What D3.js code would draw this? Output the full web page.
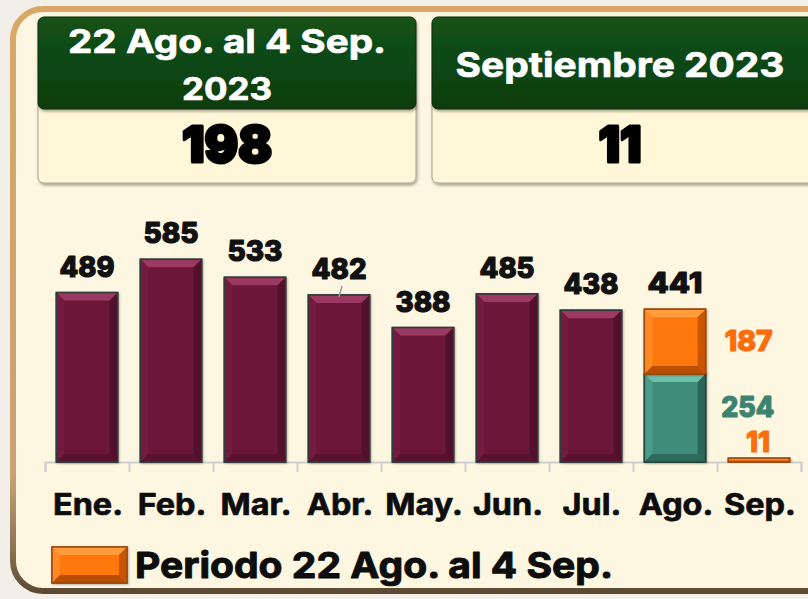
<!DOCTYPE html>
<html>
<head>
<meta charset="utf-8">
<script src="https://cdn.jsdelivr.net/npm/d3@7"></script>
<style>
  html, body { margin: 0; padding: 0; background: #f2eee8; }
  svg { display: block; font-family: Inter, "Open Sans", sans-serif; }
</style>
</head>
<body>
<svg id="chart" width="808" height="599"></svg>
<script>
// Monthly counts, 2023
const months = ["Ene.", "Feb.", "Mar.", "Abr.", "May.", "Jun.", "Jul.", "Ago.", "Sep."];
const baseValues = [489, 585, 533, 482, 388, 485, 438, 254, 0];   // counted outside the period
const periodValues = [0, 0, 0, 0, 0, 0, 0, 187, 11];               // 22 Ago. – 4 Sep.
const totalLabels = [489, 585, 533, 482, 388, 485, 438, 441, null];

// Summary boxes
const summaryTitles = [["22 Ago. al 4 Sep.", "2023"], ["Septiembre 2023"]];
const summaryValues = [198, 11];
const legendLabel = "Periodo 22 Ago. al 4 Sep.";

const W = 808, H = 599;
const svg = d3.select("#chart");
const defs = svg.append("defs");

// ---------- gradients & filters ----------
const frameGrad = defs.append("linearGradient").attr("id", "frameGrad")
  .attr("x1", 0).attr("y1", 0).attr("x2", 0).attr("y2", 1);
frameGrad.append("stop").attr("offset", "0%").attr("stop-color", "#d9a868");
frameGrad.append("stop").attr("offset", "80%").attr("stop-color", "#c9a273");
frameGrad.append("stop").attr("offset", "93%").attr("stop-color", "#8a7454");
frameGrad.append("stop").attr("offset", "100%").attr("stop-color", "#5c4a32");

const headGrad = defs.append("linearGradient").attr("id", "headGrad")
  .attr("x1", 0).attr("y1", 0).attr("x2", 0).attr("y2", 1);
headGrad.append("stop").attr("offset", "0%").attr("stop-color", "#14521a");
headGrad.append("stop").attr("offset", "100%").attr("stop-color", "#0a3d0e");

const shadow = defs.append("filter").attr("id", "shadow")
  .attr("x", "-10%").attr("y", "-10%").attr("width", "130%").attr("height", "140%");
shadow.append("feDropShadow").attr("dx", 1).attr("dy", 2).attr("stdDeviation", 1.6)
  .attr("flood-color", "#000").attr("flood-opacity", 0.35);

const barShadow = defs.append("filter").attr("id", "barShadow")
  .attr("x", "-10%").attr("y", "-10%").attr("width", "130%").attr("height", "130%");
barShadow.append("feDropShadow").attr("dx", 1).attr("dy", 1).attr("stdDeviation", 1)
  .attr("flood-color", "#000").attr("flood-opacity", 0.3);

// ---------- outer panel ----------
svg.append("rect").attr("width", W).attr("height", H).attr("fill", "#f2eee8");
svg.append("rect")
  .attr("x", 13).attr("y", 9).attr("width", 840).attr("height", 582)
  .attr("rx", 30)
  .attr("fill", "#fdf6e1")
  .attr("stroke", "url(#frameGrad)").attr("stroke-width", 6);

// heavy text: a thin same-colour stroke thickens the glyphs
function heavy(sel, w) {
  return sel.attr("stroke", function () { return d3.select(this).attr("fill"); })
    .attr("stroke-width", w).attr("stroke-linejoin", "round").attr("paint-order", "stroke");
}

// ---------- summary boxes ----------
const boxes = [
  { x: 38, w: 378 },
  { x: 432, w: 382 }
];
boxes.forEach((b, i) => {
  const g = svg.append("g");
  const cx = b.x + b.w / 2;
  g.append("rect").attr("x", b.x).attr("y", 100).attr("width", b.w).attr("height", 83)
    .attr("rx", 6).attr("fill", "#fff7d8").attr("stroke", "#a9a28c").attr("stroke-width", 1)
    .attr("filter", "url(#shadow)");
  g.append("rect").attr("x", b.x).attr("y", 17).attr("width", b.w).attr("height", 92)
    .attr("rx", 6).attr("fill", "url(#headGrad)").attr("stroke", "#062a08").attr("stroke-width", 1)
    .attr("filter", "url(#shadow)");
  const lines = summaryTitles[i];
  if (lines.length === 2) {
    heavy(g.append("text").attr("x", cx).attr("y", 53).attr("text-anchor", "middle")
      .attr("fill", "#fff").attr("font-size", 33).attr("font-weight", 700)
      .attr("textLength", 318).attr("lengthAdjust", "spacingAndGlyphs").text(lines[0]), 0.7);
    heavy(g.append("text").attr("x", cx).attr("y", 100).attr("text-anchor", "middle")
      .attr("fill", "#fff").attr("font-size", 31).attr("font-weight", 700)
      .attr("textLength", 90).attr("lengthAdjust", "spacingAndGlyphs").text(lines[1]), 0.7);
  } else {
    heavy(g.append("text").attr("x", cx - 3).attr("y", 77).attr("text-anchor", "middle")
      .attr("fill", "#fff").attr("font-size", 34).attr("font-weight", 700)
      .attr("textLength", 329).attr("lengthAdjust", "spacingAndGlyphs").text(lines[0]), 0.7);
  }
  const v = String(summaryValues[i]);
  heavy(g.append("text").attr("x", i === 0 ? cx : cx - 3).attr("y", 162).attr("text-anchor", "middle")
    .attr("fill", "#000").attr("font-size", 50).attr("font-weight", 900)
    .attr("textLength", v.length * 22 + (v === "11" ? -1 : 24)).attr("lengthAdjust", "spacingAndGlyphs")
    .text(v), 3);
});

// ---------- scales ----------
const x = d3.scaleBand().domain(months).range([45, 801]).paddingInner(0.27).paddingOuter(0.135);
const y = d3.scaleLinear().domain([0, 600]).range([462, 254.1]);
const bw = x.bandwidth();

// ---------- axis (ticks between categories) ----------
const tickScale = d3.scaleLinear().domain([0, months.length]).range([45, 801]);
const axis = svg.append("g").attr("transform", `translate(0,${y(0)})`)
  .call(d3.axisBottom(tickScale).tickValues(d3.range(months.length + 1)).tickFormat("")
    .tickSize(10).tickSizeOuter(10));
axis.selectAll("path, line").attr("stroke", "#cfcfcf").attr("stroke-width", 2);

// ---------- bevelled bar helper ----------
function bevelBar(g, x0, y0, w, h, pal) {
  const b = Math.min(8, h / 3, w / 4);
  const x1 = x0 + w, y1 = y0 + h;
  g.append("rect").attr("x", x0).attr("y", y0).attr("width", w).attr("height", h)
    .attr("fill", pal.face).attr("stroke", pal.edge).attr("stroke-width", 1.5)
    .attr("filter", "url(#barShadow)");
  const poly = (pts, fill) => g.append("polygon")
    .attr("points", pts.map(p => p.join(",")).join(" ")).attr("fill", fill);
  poly([[x0, y0], [x1, y0], [x1 - b, y0 + b], [x0 + b, y0 + b]], pal.top);
  poly([[x0, y0], [x0 + b, y0 + b], [x0 + b, y1 - b], [x0, y1]], pal.left);
  poly([[x1, y0], [x1, y1], [x1 - b, y1 - b], [x1 - b, y0 + b]], pal.right);
  poly([[x0, y1], [x0 + b, y1 - b], [x1 - b, y1 - b], [x1, y1]], pal.bottom);
  g.append("rect").attr("x", x0).attr("y", y0).attr("width", w).attr("height", h)
    .attr("fill", "none").attr("stroke", pal.edge).attr("stroke-width", 1.5);
}

const maroon = { face: "#6c1637", top: "#9c3961", left: "#741c40", right: "#53102a", bottom: "#58122d", edge: "#2e3a38" };
const teal   = { face: "#3f8c7a", top: "#6cc0aa", left: "#4a9b87", right: "#2b6759", bottom: "#2d6a5b", edge: "#25423a" };
const orange = { face: "#ff780a", top: "#ff9c3e", left: "#ff8a24", right: "#c95500", bottom: "#b84e00", edge: "#9a4a10" };

const bars = svg.append("g");
months.forEach((m, i) => {
  const x0 = x(m);
  const base = baseValues[i], per = periodValues[i];
  if (base > 0) {
    bevelBar(bars, x0, y(base), bw, y(0) - y(base), i === 7 ? teal : maroon);
  }
  if (per > 0) {
    bevelBar(bars, x0, y(base + per), bw, y(base) - y(base + per), orange);
  }
});

// ---------- value labels ----------
const labels = svg.append("g").attr("font-weight", 800).attr("font-size", 29).attr("text-anchor", "middle");
months.forEach((m, i) => {
  const t = totalLabels[i];
  if (t == null) return;
  heavy(labels.append("text").attr("x", x(m) + bw / 2).attr("y", y(baseValues[i] + periodValues[i]) - 16)
    .attr("fill", "#111").attr("textLength", 55).attr("lengthAdjust", "spacingAndGlyphs").text(t), 1.2);
});

// leader line above Abr.
const abrCx = x("Abr.") + bw / 2, abrTop = y(baseValues[3]);
svg.append("line").attr("x1", abrCx + 3).attr("y1", abrTop - 9).attr("x2", abrCx).attr("y2", abrTop + 2)
  .attr("stroke", "#9a9a9a").attr("stroke-width", 1.5);

// split labels for Ago. and Sep.
const sideX = x("Ago.") + bw + 43;
heavy(labels.append("text").attr("x", sideX).attr("y", (y(baseValues[7]) + y(baseValues[7] + periodValues[7])) / 2 + 9)
  .attr("fill", "#fb6e0e").attr("textLength", 48).attr("lengthAdjust", "spacingAndGlyphs").text(periodValues[7]), 1.2);
heavy(labels.append("text").attr("x", sideX - 1).attr("y", (y(0) + y(baseValues[7])) / 2 - 1)
  .attr("fill", "#3c8471").attr("textLength", 53).attr("lengthAdjust", "spacingAndGlyphs").text(baseValues[7]), 1.2);
heavy(labels.append("text").attr("x", x("Sep.") + bw / 2 - 1).attr("y", y(periodValues[8]) - 6)
  .attr("fill", "#fb6e0e").attr("textLength", 24).attr("lengthAdjust", "spacingAndGlyphs").text(periodValues[8]), 1.2);

// ---------- category labels ----------
const cats = svg.append("g").selectAll("text").data(months).join("text")
  .attr("x", d => x(d) + bw / 2 + 1).attr("y", 515)
  .attr("text-anchor", "middle").attr("font-size", 30).attr("font-weight", 700)
  .attr("fill", "#0d0d0d")
  .text(d => d);
cats.each(function () {
  const n = this.getComputedTextLength();
  d3.select(this).attr("textLength", n * 1.08).attr("lengthAdjust", "spacingAndGlyphs");
});
heavy(cats, 0.7);

// ---------- legend ----------
bevelBar(svg.append("g"), 52, 547, 75, 36, orange);
heavy(svg.append("text").attr("x", 135).attr("y", 578).attr("font-size", 36).attr("font-weight", 700)
  .attr("fill", "#0d0d0d").attr("textLength", 478).attr("lengthAdjust", "spacingAndGlyphs")
  .text(legendLabel), 1);
</script>
</body>
</html>
